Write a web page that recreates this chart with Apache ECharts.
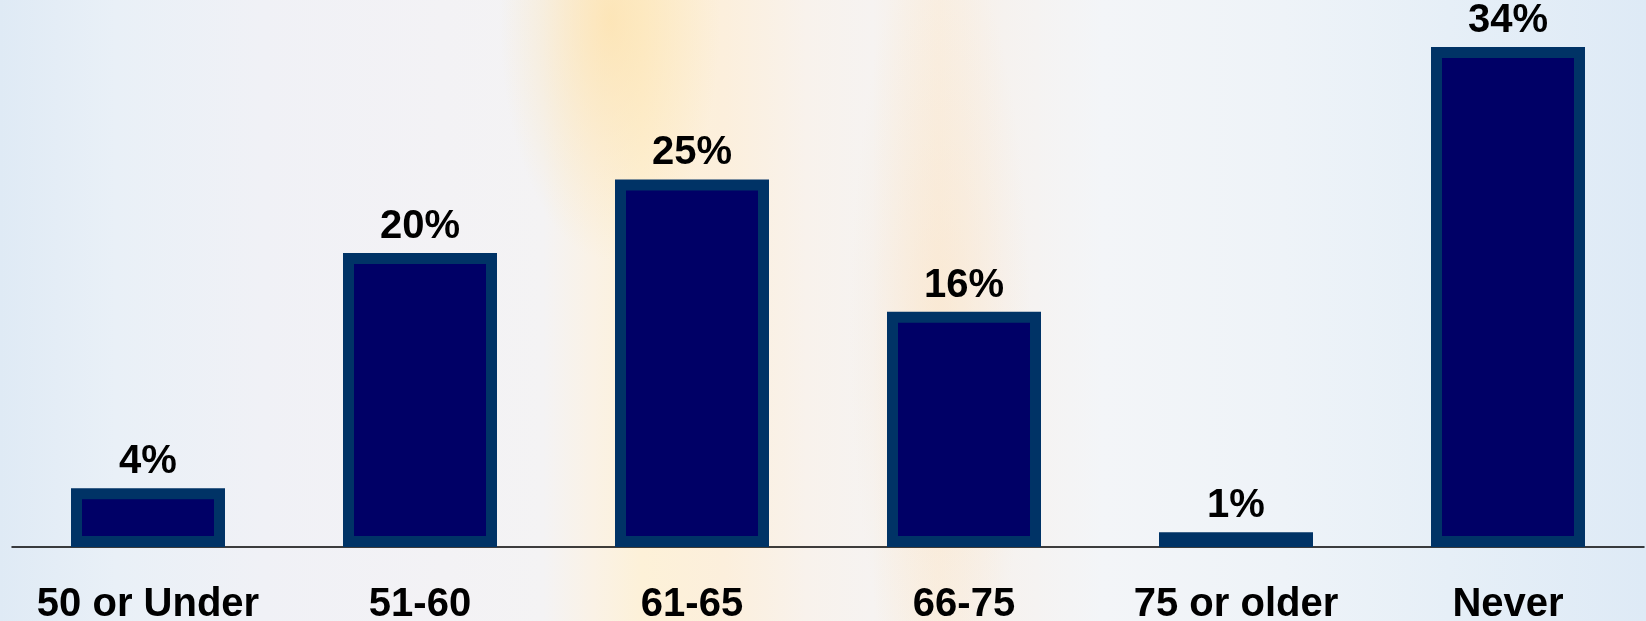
<!DOCTYPE html>
<html>
<head>
<meta charset="utf-8">
<script src="https://cdn.jsdelivr.net/npm/echarts@6/dist/echarts.min.js"></script>
<style>
html,body{margin:0;padding:0;width:1646px;height:621px;overflow:hidden;}
body{
  background:
    radial-gradient(ellipse 110px 240px at 610px 20px, rgba(253,225,170,0.75), rgba(253,225,170,0) 100%),
    radial-gradient(ellipse 90px 400px at 940px 330px, rgba(250,228,200,0.55), rgba(250,228,200,0) 100%),
    linear-gradient(90deg, #dfeaf5 0%, #e9f0f7 7%, #f0f1f6 16%, #f3f2f5 27%, #f4f3f4 33%, #faf2e6 36%, #fdf1d8 39%, #fcefdc 44%, #f8f2ec 49%, #f6f3f1 53%, #f9efe3 57%, #f6f2ef 61%, #f3f5f8 67%, #eef3f8 78%, #e6eff7 88%, #deeaf6 100%);
}
#chart{width:1646px;height:621px;}
</style>
</head>
<body>
<div id="chart"></div>
<script>
const categories = ['50 or Under', '51-60', '61-65', '66-75', '75 or older', 'Never'];
const values = [4, 20, 25, 16, 1, 34];

const chart = echarts.init(document.getElementById('chart'), null, {renderer: 'canvas'});
chart.setOption({
  backgroundColor: 'transparent',
  animation: false,
  grid: {left: 12, right: 2, top: 25, bottom: 74, containLabel: false, outerBoundsMode: 'none'},
  xAxis: {
    type: 'category',
    data: categories,
    axisLine: {show: true, lineStyle: {color: '#000', width: 1.5}},
    axisTick: {show: false},
    axisLabel: {
      color: '#000', fontFamily: 'Liberation Sans, Arial, sans-serif',
      fontWeight: 'bold', fontSize: 40, margin: 38, interval: 0
    }
  },
  yAxis: {
    type: 'value', min: 0, max: 35.5,
    show: false, splitLine: {show: false}
  },
  series: [{
    type: 'bar',
    data: values,
    barWidth: 154,
    itemStyle: {color: '#000066', borderColor: '#003366', borderWidth: 11},
    label: {
      show: true, position: 'top', distance: 6,
      formatter: p => p.value + '%',
      color: '#000', fontFamily: 'Liberation Sans, Arial, sans-serif',
      fontWeight: 'bold', fontSize: 40
    }
  }]
});
</script>
</body>
</html>
